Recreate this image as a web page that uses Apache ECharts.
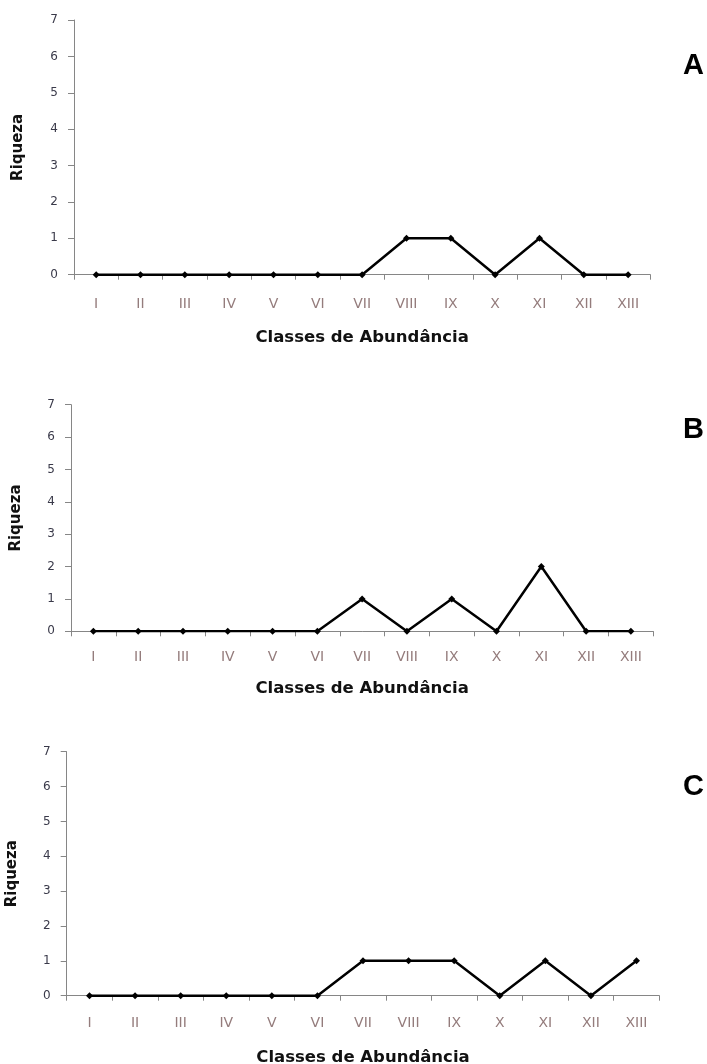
<!DOCTYPE html>
<html><head><meta charset="utf-8">
<script src="https://cdn.jsdelivr.net/npm/echarts@6/dist/echarts.min.js"></script>
<style>html,body{margin:0;padding:0;background:#fff}#c{width:707px;height:1064px}</style>
</head><body><div id="c"></div>
<script>
const categories = ['I','II','III','IV','V','VI','VII','VIII','IX','X','XI','XII','XIII'];
const yTicks = [0,1,2,3,4,5,6,7];
const seriesA = [0,0,0,0,0,0,0,1,1,0,1,0,0];
const seriesB = [0,0,0,0,0,0,1,0,1,0,2,0,0];
const seriesC = [0,0,0,0,0,0,1,1,1,0,1,0,1];
const panelLabels = ['A','B','C'];
const xTitle = 'Classes de Abundância';
const yTitle = 'Riqueza';

const panels = [
  {data: seriesA, grid:{left:74, top:20, width:576.3, height:254.7}, xLabelMargin:23, xNameGap:55, yNameGap:48, letterY:66},
  {data: seriesB, grid:{left:71, top:404.7, width:582.3, height:226.6}, xLabelMargin:19, xNameGap:49, yNameGap:47, letterY:430},
  {data: seriesC, grid:{left:66.7, top:751.7, width:592.6, height:244}, xLabelMargin:21, xNameGap:54, yNameGap:47, letterY:787}
];
const axisGray = '#868686';
const chart = echarts.init(document.getElementById('c'), null, {renderer:'canvas'});
chart.setOption({
  animation:false,
  backgroundColor:'#fff',
  grid: panels.map(p=>Object.assign({containLabel:false, outerBoundsMode:'none'}, p.grid)),
  xAxis: panels.map((p,i)=>({
    type:'category', gridIndex:i, data:categories, boundaryGap:true,
    name:xTitle, nameLocation:'middle', nameGap:p.xNameGap,
    nameTextStyle:{fontFamily:'DejaVu Sans', fontWeight:'bold', fontSize:16.5, color:'#111'},
    axisLine:{lineStyle:{color:axisGray, width:1}},
    axisTick:{show:true, length:5, inside:false, lineStyle:{color:axisGray}},
    axisLabel:{margin:p.xLabelMargin, fontFamily:'DejaVu Sans', fontSize:14, color:'#947c7c'},
    splitLine:{show:false}
  })),
  yAxis: panels.map((p,i)=>({
    type:'value', gridIndex:i, min:yTicks[0], max:yTicks[yTicks.length-1], interval:1,
    name:yTitle, nameLocation:'middle', nameGap:p.yNameGap, nameRotate:90,
    nameTextStyle:{fontFamily:'DejaVu Sans', fontWeight:'bold', fontSize:15, color:'#111'},
    axisLine:{show:true, lineStyle:{color:axisGray, width:1}},
    axisTick:{show:true, length:6, inside:false, lineStyle:{color:axisGray}},
    axisLabel:{margin:16, fontFamily:'DejaVu Sans', fontSize:12, color:'#3a3a4a'},
    splitLine:{show:false}
  })),
  graphic: panels.map((p,i)=>({
    type:'text', left:683, top:p.letterY-15,
    style:{text:panelLabels[i], font:'bold 29px "Liberation Sans", Arial, sans-serif', fill:'#000'}
  })),
  series: panels.map((p,i)=>({
    type:'line', xAxisIndex:i, yAxisIndex:i, data:p.data,
    symbol:'diamond', symbolSize:7, showSymbol:true,
    lineStyle:{color:'#000', width:2.5}, itemStyle:{color:'#000'}
  }))
});
</script></body></html>
